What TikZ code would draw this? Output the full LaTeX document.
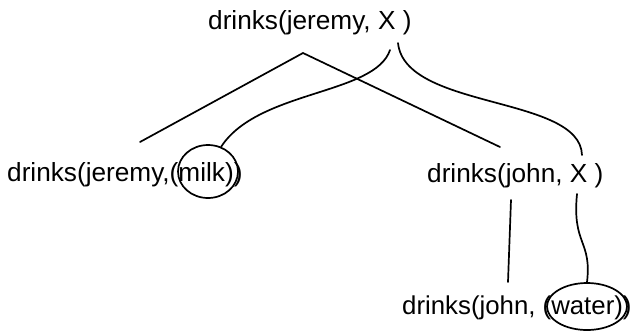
\documentclass[tikz,border=0pt]{standalone}
\usepackage{fontspec}
\setmainfont{Liberation Sans}
\usetikzlibrary{shapes.geometric}
\begin{document}
\begin{tikzpicture}[x=1pt,y=-1pt,
  term/.style={anchor=base west,inner sep=0pt,font=\fontsize{26.2}{30}\selectfont},
  link/.style={line width=1.7pt,line cap=round},
  ring/.style={draw,ellipse,line width=1.7pt,inner sep=0pt}]
\useasboundingbox (0,0) rectangle (635,333);
\node[term] (top) at (208,29.5) {drinks(jeremy, X )};
\node[term] (left) at (7,181.5) {drinks(jeremy,(milk))};
\node[term] (mid) at (427,182) {drinks(john, X )};
\node[term,font=\fontsize{25.8}{30}\selectfont] (bot) at (402,314) {drinks(john, (water))};
\node[ring,minimum width=60pt,minimum height=53pt] (milk) at (208,171.5) {};
\node[ring,minimum width=80pt,minimum height=47pt] (water) at (587,306.5) {};
\coordinate (apex) at (303,53);
\coordinate (lleg) at (140,142);
\coordinate (rleg) at (500,147);
\coordinate (x1) at (390,50);
\coordinate (x2) at (398,43);
\coordinate (midtop) at (582,155);
\coordinate (j1) at (511,200);
\coordinate (j2) at (508,282);
\coordinate (x3) at (577,194);
\draw[link] (lleg) -- (apex) -- (rleg);
\draw[link] (x1) .. controls (375,95) and (258,90) .. (milk.62);
\draw[link] (x2) .. controls (405,110) and (580,95) .. (midtop);
\draw[link] (j1) -- (j2);
\draw[link] (x3) .. controls (572,245) and (592,240) .. (water.north);
\end{tikzpicture}
\end{document}
